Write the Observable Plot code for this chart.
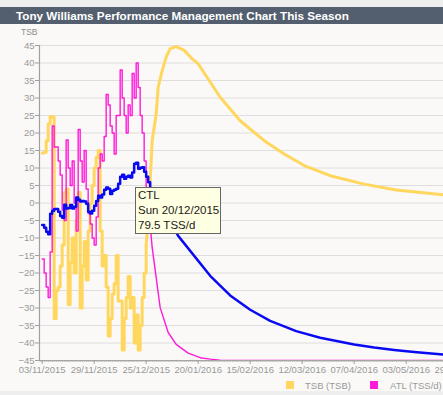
<!DOCTYPE html>
<html><head><meta charset="utf-8">
<script src="https://cdn.jsdelivr.net/npm/d3@7"></script>
<script src="https://cdn.jsdelivr.net/npm/@observablehq/plot@0.6"></script>
<style>
html,body{margin:0;padding:0;overflow:hidden;background:#eeeeee;width:443px;height:395px;position:relative;}
#title{position:absolute;left:0;top:7px;width:443px;height:17px;background:#535f6f;color:#fff;font:bold 11.7px "Liberation Sans",Arial,sans-serif;line-height:17px;padding-left:16px;box-sizing:border-box;white-space:nowrap;}
#chart{position:absolute;left:0;top:24px;width:443px;height:367px;background:#faf9f7;overflow:hidden;}
#chart svg{background:transparent;display:block;max-width:none !important;width:480px;height:367px;}
#ylab{position:absolute;left:21px;top:27px;font:8.5px "Liberation Sans",sans-serif;color:#8c8c8c;}
#tip{position:absolute;left:135px;top:187px;width:86px;height:47px;background:#ffffe1;border:1px solid #666;box-sizing:border-box;font:11.5px "Liberation Sans",sans-serif;color:#1a1a1a;line-height:15px;padding-left:2px;padding-top:0px;white-space:nowrap;}
.lg{position:absolute;top:381px;width:8px;height:8px;}
.lt{position:absolute;top:380px;font:9.5px "Liberation Sans",sans-serif;color:#999;white-space:nowrap;}
</style></head><body>
<div id="title">Tony Williams Performance Management Chart This Season</div>
<div id="chart"></div>
<div id="ylab">TSB</div>
<div class="lg" style="left:286px;background:#ffd75e"></div><div class="lt" style="left:305px">TSB (TSB)</div>
<div class="lg" style="left:370px;background:#ff19d9"></div><div class="lt" style="left:390px">ATL (TSS/d)</div>
<div id="tip">CTL<br>Sun 20/12/2015<br>79.5 TSS/d</div>
<script>
// Season start (day offset 0)
const seasonStart = "2015-11-03";
const xTickLabels = ["03/11/2015","29/11/2015","25/12/2015","20/01/2016","15/02/2016","12/03/2016","07/04/2016","03/05/2016","29/05/2016"];
const yTicks = [-45,-40,-35,-30,-25,-20,-15,-10,-5,0,5,10,15,20,25,30,35,40,45];

// Daily history (day 0 = 03/11/2015), values read on the TSB axis
const tsbHist = [14.3,14.5,17.8,22.6,24.7,24.5,-33,-25,-24,-18,-12,3,4,-29,-17,-10,-20,-5,3,-30,-18,-11,-22,-8,0,5,10,13,15,-8,-18,-15,-24,-38,-33,-26,-23,-15,-28,-28,-42,-33,-27,-21,-30,-27,-40,-32,-42,-35,-27,-20,-12];
const atlHist = [-16,-20,-24,-27,-14,22,16,16,12,8,-2,-5,18,10,5,12,0,-8,21,12,6,15,4,-3,-6,-10,-12,-4,10,14,12,19,31,28,22,20,14,25,25,38,30,25,20,28,25,37,30,40,33,25,20,12,5];
const ctlHist = [-6.3,-7.1,-8.2,-8.9,-3.1,-2.2,-1.7,-1.7,-2.5,-3.7,-4.2,-0.5,-1.6,-1.4,-0.6,-1.6,-1.1,1.6,0.9,0.4,0.6,0.4,-0.2,-2.5,-3.0,-2.2,-0.8,0.6,2.1,1.6,2.4,3.8,4.4,4.1,2.6,3.5,3.8,4.1,5.5,7.5,8.1,6.9,7.5,7.8,7.3,8.7,11.2,11.5,9.8,10.1,10.2,8.9,7.5,5.9,4.4];

// Projection (day offsets and values)
const tsbProjDays = [53,55,57,58,60,62,64,67,71,75,78,89,99,111,121,131,144,161,177,201,207,215];
const tsbProjVals = [-5.5,17.8,25.4,33.1,37.8,41.7,44.1,44.7,43.6,41.2,39.8,30.2,23.5,17.8,14,10.7,7.8,5.4,3.7,2.3,2.0,1.8];
const atlProjDays = [53,55,57,59,63,67,73,79,84,89,95,215];
const atlProjVals = [0.6,-12.7,-21.3,-29.9,-37,-40.4,-42.9,-44.2,-44.6,-44.9,-45,-45];
const ctlProjDays = [68,84,94,104,114,127,139,156,166,176,186,196,207,215];
const ctlProjVals = [-9.4,-20.8,-26.4,-30.5,-33.7,-36.6,-38.5,-40.4,-41.3,-42,-42.6,-43.1,-43.6,-43.8];

const start = new Date(seasonStart + "T00:00:00Z");
const dayOf = d => d3.utcDay.offset(start, d);
const hist = (vals) => vals.map((v, i) => ({date: dayOf(i), v}));
const proj = (days, vals, last) => [last, ...days.map((d, i) => ({date: dayOf(d), v: vals[i]}))];

const tsbH = hist(tsbHist), atlH = hist(atlHist), ctlH = hist(ctlHist);
const tsbP = proj(tsbProjDays, tsbProjVals, tsbH[tsbH.length-1]);
const atlP = proj(atlProjDays, atlProjVals, atlH[atlH.length-1]);
const ctlP = proj(ctlProjDays, ctlProjVals, ctlH[ctlH.length-1]);

const parseTick = d3.utcParse("%d/%m/%Y");
const majorTicks = xTickLabels.map(parseTick);
const domStart = new Date(Date.UTC(2015,10,1,16));
const domEnd = new Date(Date.UTC(2016,5,9,4));
const minorTicks = d3.utcDay.range(d3.utcDay.ceil(domStart), domEnd);

const yel = "#ffd75e", mag = "#ff19d9", blu = "#0a0af2";
const plot = Plot.plot({
  width: 480, height: 367,
  marginLeft: 39, marginRight: 0, marginTop: 21, marginBottom: 31,
  style: {background: "transparent", color: "#999", fontFamily: "Liberation Sans, sans-serif", fontSize: "9.5px", maxWidth: "none"},
  x: {type: "utc", domain: [domStart, domEnd], axis: null},
  y: {domain: [-45, 45], axis: null},
  marks: [
    Plot.ruleY(yTicks.filter(t => t > -45), {stroke: "#dedede", strokeWidth: 1}),
    Plot.line(tsbH, {x: "date", y: "v", curve: "step-after", stroke: yel, strokeWidth: 3, clip: true}),
    Plot.line(tsbP, {x: "date", y: "v", stroke: yel, strokeWidth: 3, clip: true}),
    Plot.line(atlH, {x: "date", y: "v", curve: "step-after", stroke: mag, strokeWidth: 1.4, clip: true}),
    Plot.line(atlP, {x: "date", y: "v", stroke: mag, strokeWidth: 1.4, clip: true}),
    Plot.line(ctlH, {x: "date", y: "v", curve: "step-after", stroke: blu, strokeWidth: 2.5, clip: true}),
    Plot.line(ctlP, {x: "date", y: "v", stroke: blu, strokeWidth: 2.5, clip: true}),
    Plot.ruleX([domStart], {stroke: "#a0a0a0", strokeWidth: 1.2}),
    Plot.ruleY([-45], {stroke: "#a0a0a0", strokeWidth: 1.2}),
    Plot.axisY(yTicks, {anchor: "left", label: null, tickSize: 4, tickPadding: 1, stroke: "#a0a0a0", fill: "#999", fontSize: "9.5px"}),
    Plot.axisX(minorTicks, {anchor: "bottom", label: null, tickSize: 2, tickFormat: () => "", stroke: "#aaa"}),
    Plot.axisX(majorTicks, {anchor: "bottom", label: null, tickSize: 4, tickPadding: 2, tickFormat: d3.utcFormat("%d/%m/%Y"), stroke: "#a0a0a0", fill: "#999", fontSize: "9.5px"})
  ]
});
document.getElementById("chart").appendChild(plot);
</script>
</body></html>
